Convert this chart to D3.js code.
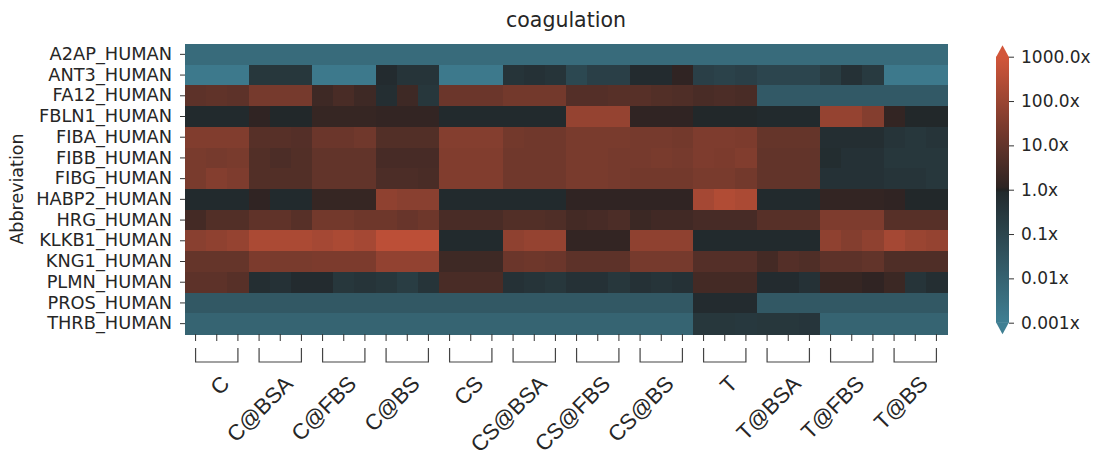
<!DOCTYPE html>
<html>
<head>
<meta charset="utf-8">
<script src="https://cdn.jsdelivr.net/npm/d3@7"></script>
<style>
  body { margin: 0; background: #fff; }
  text { fill: #262626; }
</style>
</head>
<body>
<div id="chart"></div>
<script>
// groups of samples, three replicates each
const groups = ["C", "C@BSA", "C@FBS", "C@BS", "CS", "CS@BSA", "CS@FBS", "CS@BS", "T", "T@BSA", "T@FBS", "T@BS"];
const replicates = [1, 2, 3];
const proteins = ["A2AP_HUMAN", "ANT3_HUMAN", "FA12_HUMAN", "FBLN1_HUMAN", "FIBA_HUMAN", "FIBB_HUMAN", "FIBG_HUMAN",
                  "HABP2_HUMAN", "HRG_HUMAN", "KLKB1_HUMAN", "KNG1_HUMAN", "PLMN_HUMAN", "PROS_HUMAN", "THRB_HUMAN"];

// log10 fold change, 36 samples per protein (C.. T@BS, 3 reps each)
const A2AP  = [-2.3,-2.3,-2.3, -2.3,-2.3,-2.3, -2.3,-2.3,-2.3, -2.3,-2.3,-2.3, -2.3,-2.3,-2.3, -2.3,-2.3,-2.3, -2.3,-2.3,-2.3, -2.3,-2.3,-2.3, -2.3,-2.3,-2.3, -2.3,-2.3,-2.3, -2.3,-2.3,-2.3, -2.3,-2.3,-2.3];
const ANT3  = [-2.8,-2.8,-2.8, -0.5,-0.5,-0.5, -2.8,-2.8,-2.8, -0.1,-0.4,-0.4, -2.8,-2.8,-2.8, -0.4,-0.3,-0.4, -1.1,-0.8,-0.8, -0.1,-0.1,0.1, -0.8,-0.9,-0.8, -1.0,-1.0,-1.0, -0.7,-0.3,-0.6, -2.8,-2.8,-2.8];
const FA12  = [0.9,0.95,0.9, 1.35,1.35,1.35, 0.35,0.55,0.35, -0.2,0.35,-0.5, 1.15,1.15,1.15, 1.3,1.3,1.3, 0.75,0.75,0.8, 0.8,0.7,0.65, 0.55,0.6,0.55, -1.7,-1.7,-1.7, -1.7,-1.7,-1.7, -1.7,-1.7,-1.7];
const FBLN1 = [-0.05,-0.05,-0.05, 0.1,-0.02,-0.02, 0.2,0.2,0.2, 0.15,0.15,0.15, -0.05,-0.05,-0.05, -0.05,-0.05,-0.05, 1.9,1.9,1.9, 0.1,0.1,0.1, -0.02,-0.02,-0.02, -0.05,-0.05,-0.05, 1.9,1.9,1.6, 0.15,-0.02,-0.02];
const FIBA  = [1.55,1.55,1.55, 0.8,0.8,0.75, 1.15,1.15,1.25, 0.7,0.7,0.7, 1.6,1.6,1.6, 1.3,1.25,1.25, 1.4,1.4,1.4, 1.35,1.35,1.3, 1.5,1.5,1.45, 1.05,1.05,1.05, -0.2,-0.2,-0.2, -0.4,-0.5,-0.4];
const FIBB  = [1.4,1.35,1.4, 0.7,0.6,0.7, 1.0,1.0,1.0, 0.5,0.5,0.5, 1.55,1.55,1.55, 1.25,1.25,1.25, 1.4,1.4,1.35, 1.35,1.4,1.35, 1.5,1.45,1.55, 1.0,1.0,1.0, -0.15,-0.3,-0.3, -0.5,-0.5,-0.5];
const FIBG  = [1.4,1.6,1.5, 0.7,0.7,0.7, 1.0,1.0,1.0, 0.6,0.6,0.55, 1.55,1.55,1.55, 1.25,1.25,1.25, 1.4,1.4,1.35, 1.3,1.3,1.3, 1.4,1.4,1.3, 1.0,1.0,1.0, -0.3,-0.3,-0.3, -0.4,-0.4,-0.5];
const HABP2 = [-0.05,-0.05,-0.05, 0.1,-0.05,-0.05, 0.2,0.2,0.2, 1.8,1.7,1.7, -0.05,-0.05,-0.05, -0.05,-0.05,-0.05, 0.1,0.1,0.1, 0.1,0.1,0.1, 2.2,2.4,2.3, -0.05,-0.05,-0.05, 0.15,0.15,0.15, 0.1,-0.02,-0.02];
const HRG   = [0.45,0.7,0.7, 0.95,0.95,0.8, 1.3,1.3,1.2, 1.2,1.1,1.2, 0.55,0.55,0.55, 0.7,0.7,0.65, 0.45,0.5,0.6, 0.3,0.4,0.4, 0.5,0.5,0.5, 0.8,0.8,0.8, 1.5,1.5,1.5, 0.8,0.8,0.8];
const KLKB1 = [1.7,1.8,1.9, 2.3,2.3,2.3, 2.2,2.3,2.2, 2.6,2.6,2.6, -0.05,-0.05,-0.05, 1.8,1.9,1.9, 0.15,0.15,0.15, 1.8,1.8,1.8, -0.05,-0.05,-0.05, -0.05,-0.05,-0.05, 1.8,1.6,1.8, 2.2,2.0,1.9];
const KNG1  = [1.05,1.05,1.05, 1.45,1.4,1.4, 1.45,1.45,1.45, 1.85,1.85,1.85, 0.35,0.35,0.35, 1.15,1.2,1.15, 0.9,0.9,0.9, 1.35,1.35,1.35, 0.75,0.75,0.75, 0.45,0.75,0.65, 0.9,0.9,1.0, 0.65,0.65,0.65];
const PLMN  = [0.9,0.9,0.8, -0.2,-0.3,-0.1, -0.1,-0.5,-0.4, -0.5,-0.7,-0.4, 0.55,0.55,0.55, -0.3,-0.4,-0.5, -0.3,-0.3,-0.5, -0.3,-0.4,-0.3, 0.45,0.45,0.45, -0.1,-0.1,-0.3, 0.2,0.2,0.1, 0.3,-0.4,-0.2];
const PROS  = [-1.65,-1.65,-1.65, -1.65,-1.65,-1.65, -1.65,-1.65,-1.65, -1.65,-1.65,-1.65, -1.65,-1.65,-1.65, -1.65,-1.65,-1.65, -1.65,-1.65,-1.65, -1.65,-1.65,-1.65, -0.1,-0.1,-0.1, -1.65,-1.65,-1.65, -1.65,-1.65,-1.65, -1.65,-1.65,-1.65];
const THRB  = [-2.05,-2.05,-2.05, -2.05,-2.05,-2.05, -2.05,-2.05,-2.05, -2.05,-2.05,-2.05, -2.05,-2.05,-2.05, -2.05,-2.05,-2.05, -2.05,-2.05,-2.05, -2.05,-2.05,-2.05, -0.5,-0.5,-0.55, -0.5,-0.5,-0.45, -2.05,-2.05,-2.05, -2.05,-2.05,-2.05];
const rows = [A2AP, ANT3, FA12, FBLN1, FIBA, FIBB, FIBG, HABP2, HRG, KLKB1, KNG1, PLMN, PROS, THRB];

const cbarTicks = [1000, 100, 10, 1, 0.1, 0.01, 0.001];
const cbarLabels = ["1000.0x", "100.0x", "10.0x", "1.0x", "0.1x", "0.01x", "0.001x"];

const W = 1095, H = 459;
const margin = ({top: 44, right: 148, bottom: 125, left: 185});
const width = W - margin.left - margin.right,
    height = H - margin.top - margin.bottom;

const svg = d3.select("#chart")
            .append("svg")
            .attr("width", W)
            .attr("height", H);
const g = svg.append("g")
            .attr("transform", `translate(${margin.left},${margin.top})`);

const samples = [];
groups.forEach(gr => replicates.forEach(r => samples.push(gr + "_" + r)));

const xScale = d3.scaleBand().domain(samples).range([0, width]);
const yScale = d3.scaleBand().domain(proteins).range([0, height]);

// seaborn diverging_palette(220, 20, center="dark"), on log10 values
const color = d3.scaleLinear()
                .domain([-3, -0.025, 0, 0.025, 3])
                .range(["#3f7f93", "#22292c", "#222222", "#2c2322", "#d2563a"])
                .interpolate(d3.interpolateRgb)
                .clamp(true);

const cells = [];
rows.forEach((vals, i) => vals.forEach((v, j) => cells.push({p: proteins[i], s: samples[j], v})));

g.selectAll("rect.cell")
 .data(cells)
 .enter()
 .append("rect")
 .attr("class", "cell")
 .attr("x", d => xScale(d.s))
 .attr("y", d => yScale(d.p))
 .attr("width", xScale.bandwidth() + 0.6)
 .attr("height", yScale.bandwidth() + 0.6)
 .attr("shape-rendering", "crispEdges")
 .attr("fill", d => color(d.v));

// y axis
const yAxis = g.append("g")
               .call(d3.axisLeft(yScale).tickSize(5).tickPadding(8))
yAxis.select(".domain").remove();
yAxis.selectAll("line").attr("stroke", "#333");
yAxis.selectAll("text")
     .style("font-family", "DejaVu Sans")
     .style("font-size", "17.8px")
     .attr("fill", "#262626");

// x ticks per sample
const xAxis = g.append("g")
               .attr("transform", `translate(0,${height})`)
               .call(d3.axisBottom(xScale).tickSize(7).tickFormat(""));
xAxis.select(".domain").remove();
xAxis.selectAll("line").attr("stroke", "#333");

// brackets + group labels
const br = g.append("g").attr("transform", `translate(0,${height})`);
groups.forEach(gr => {
    const x0 = xScale(gr + "_1") + xScale.bandwidth() / 2;
    const x1 = xScale(gr + "_3") + xScale.bandwidth() / 2;
    br.append("path")
      .attr("d", `M${x0},14V28H${x1}V14`)
      .attr("fill", "none")
      .attr("stroke", "#444")
      .attr("stroke-width", 1.2);
    const cx = xScale(gr + "_2") + xScale.bandwidth() / 2;
    br.append("text")
      .attr("transform", `translate(${cx + 14},${51}) rotate(-45)`)
      .attr("text-anchor", "end")
      .style("font-family", "Liberation Sans, Arial, sans-serif")
      .style("font-size", "22px")
      .text(gr);
});

// title
svg.append("text")
   .attr("x", margin.left + width / 2)
   .attr("y", 27)
   .attr("text-anchor", "middle")
   .style("font-family", "DejaVu Sans")
   .style("font-size", "20.5px")
   .text("coagulation");

// y label
svg.append("text")
   .attr("transform", `translate(23,${margin.top + height / 2}) rotate(-90)`)
   .attr("text-anchor", "middle")
   .style("font-family", "DejaVu Sans")
   .style("font-size", "17.5px")
   .text("Abbreviation");

// colorbar
const cb = {x: 996, w: 13, top: 56.7, bottom: 322.7, ext: 11.5};
const cScale = d3.scaleLog().domain([0.001, 1000]).range([cb.bottom, cb.top]);
const defs = svg.append("defs");
const grad = defs.append("linearGradient")
                 .attr("id", "cgrad")
                 .attr("x1", 0).attr("y1", 1).attr("x2", 0).attr("y2", 0);
d3.range(0, 1.0001, 0.01).forEach(t => {
    grad.append("stop")
        .attr("offset", t)
        .attr("stop-color", color(-3 + 6 * t));
});
const cbg = svg.append("g");
cbg.append("rect")
   .attr("x", cb.x)
   .attr("y", cScale(1000))
   .attr("width", cb.w)
   .attr("height", cScale(0.001) - cScale(1000))
   .attr("fill", "url(#cgrad)");
cbg.append("path")
   .attr("d", `M${cb.x},${cScale(1000) + 0.5}L${cb.x + cb.w / 2},${cScale(1000) - cb.ext}L${cb.x + cb.w},${cScale(1000) + 0.5}Z`)
   .attr("fill", color(3.2));
cbg.append("path")
   .attr("d", `M${cb.x},${cScale(0.001) - 0.5}L${cb.x + cb.w / 2},${cScale(0.001) + cb.ext}L${cb.x + cb.w},${cScale(0.001) - 0.5}Z`)
   .attr("fill", color(-3.2));
const cAxis = svg.append("g")
                 .attr("transform", `translate(${cb.x + cb.w},0)`)
                 .call(d3.axisRight(cScale)
                         .tickValues(cbarTicks)
                         .tickSize(5)
                         .tickPadding(7)
                         .tickFormat((d, i) => cbarLabels[i]));
cAxis.select(".domain").remove();
cAxis.selectAll("line").attr("stroke", "#333");
cAxis.selectAll("text")
     .style("font-family", "DejaVu Sans")
     .style("font-size", "17px")
     .attr("fill", "#262626");
</script>
</body>
</html>
